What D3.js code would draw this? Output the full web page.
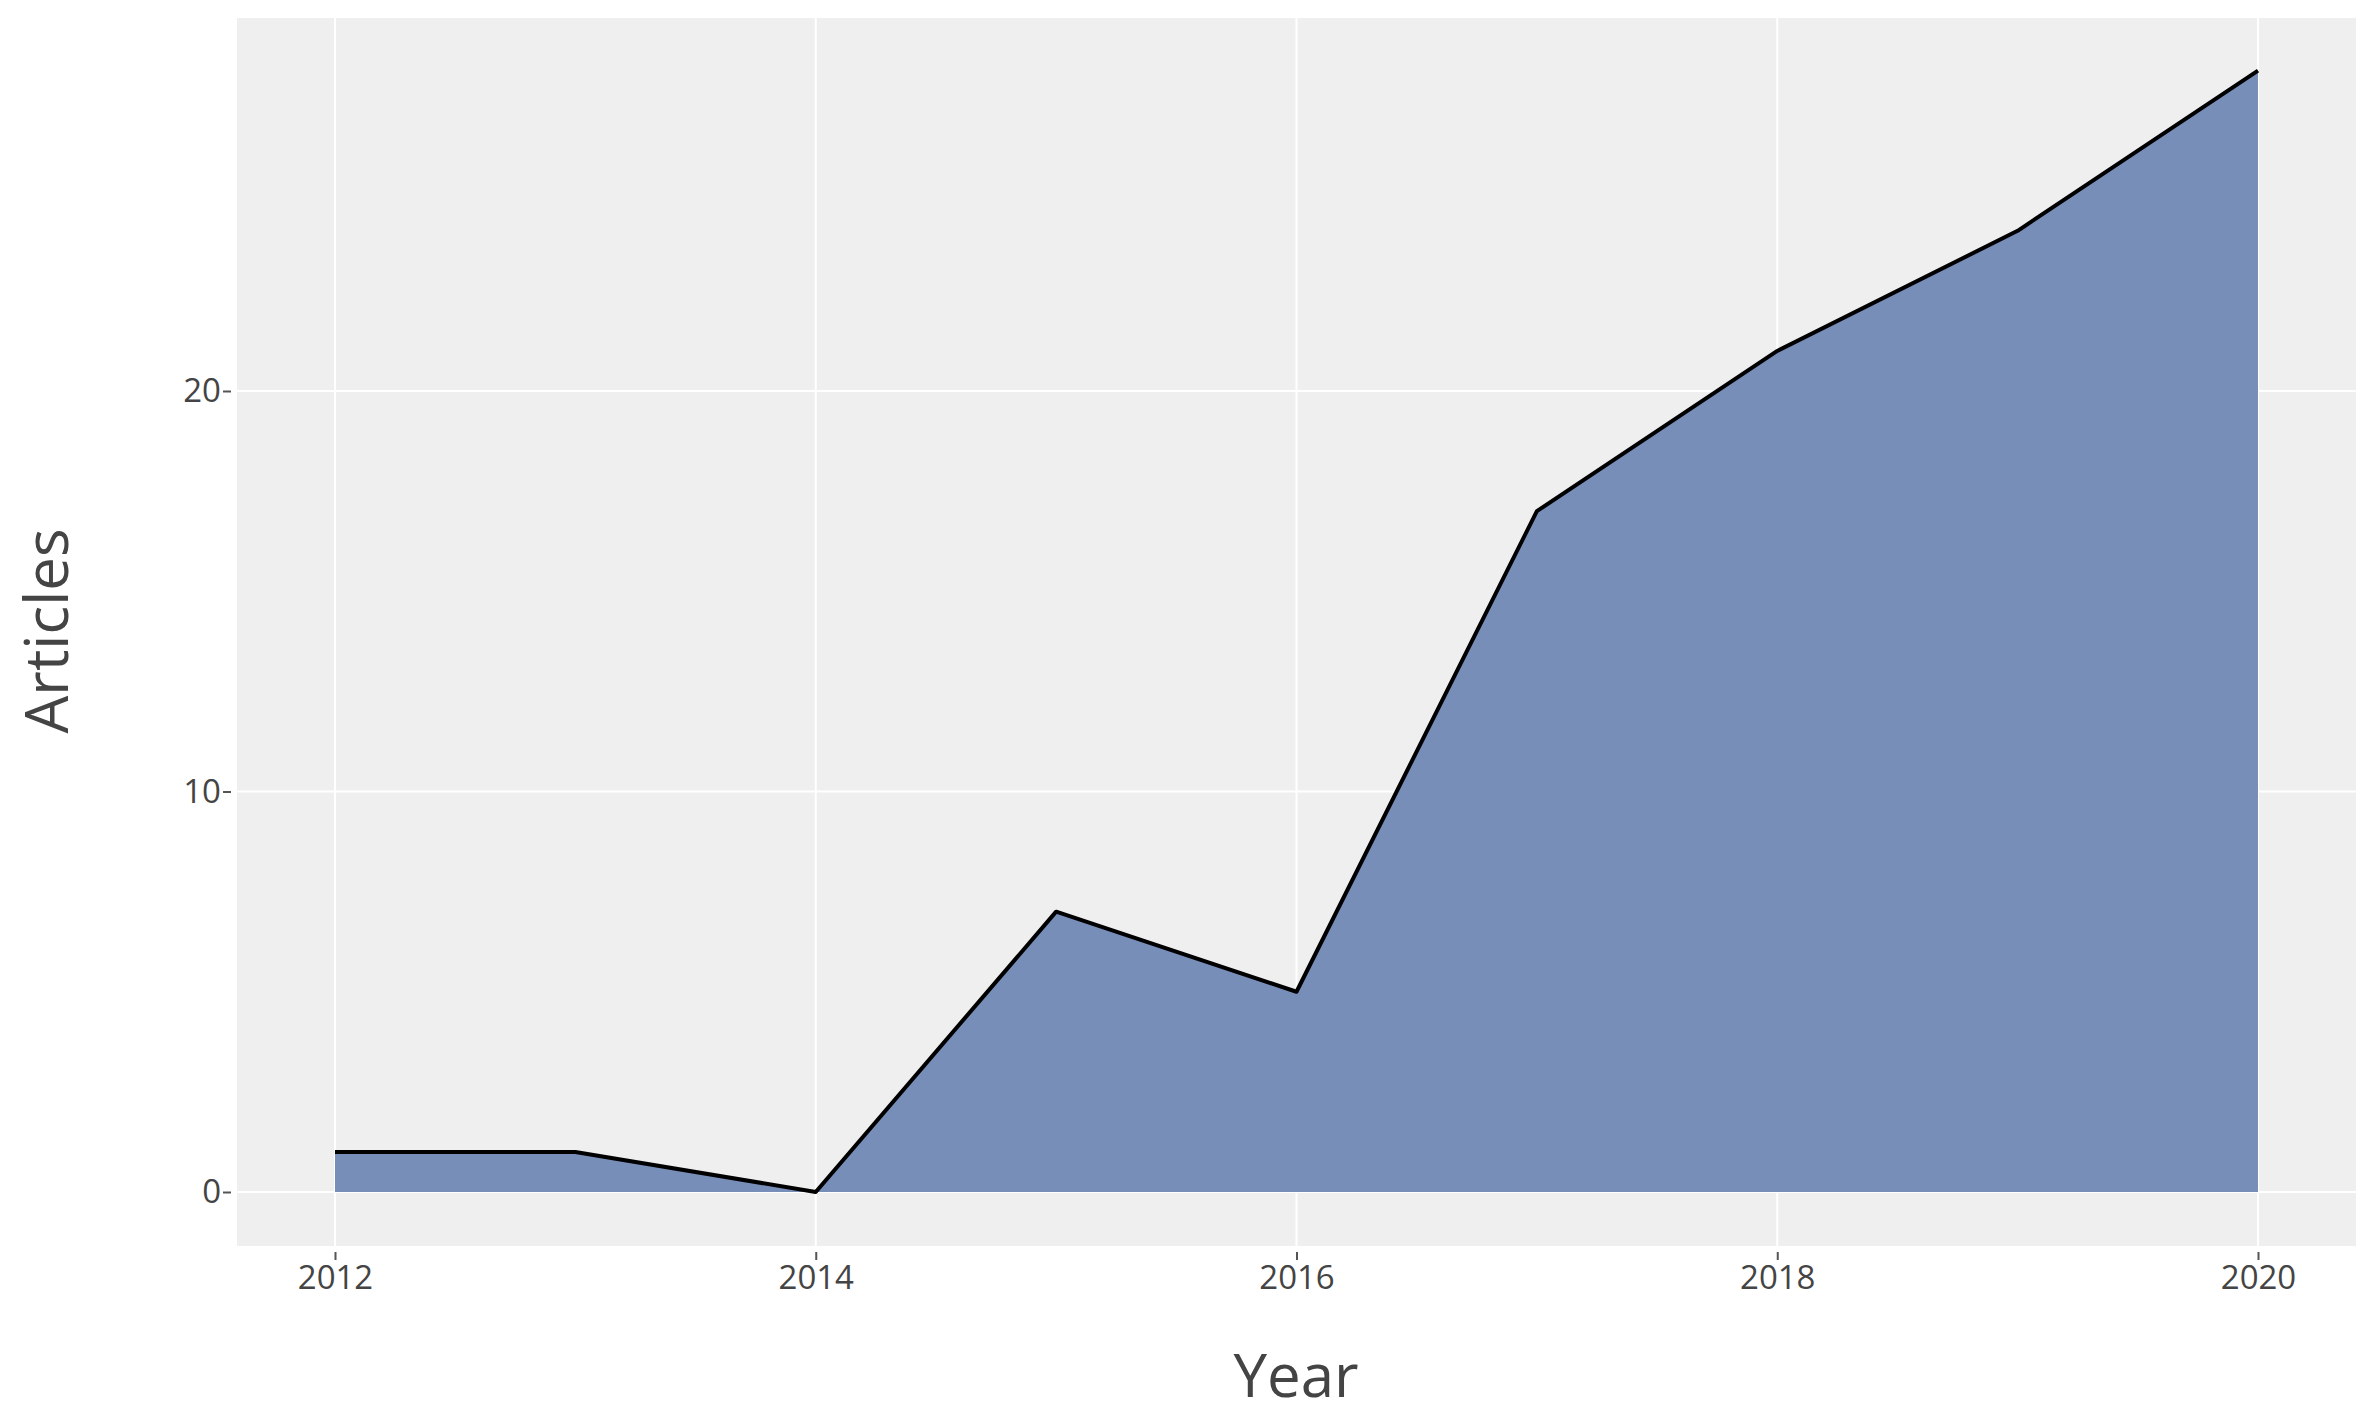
<!DOCTYPE html><html><head><meta charset="utf-8"><script src="https://cdn.jsdelivr.net/npm/d3@7"></script>
<style>body{margin:0;background:#fff}</style></head><body><svg id="c" width="2368" height="1427"></svg>
<script>
const years=[2012,2013,2014,2015,2016,2017,2018,2019,2020];
const articles=[1,1,0,7,5,17,21,24,28];
const xTicks=[2012,2014,2016,2018,2020];
const yTicks=[0,10,20];
const svg=d3.select("#c");
const L=237,R=2356,T=18,B=1246;
const x=d3.scaleLinear().domain([2012,2020]).range([335,2258]);
const y=d3.scaleLinear().domain([0,20]).range([1192,391]);
const font="'Open Sans', Verdana, sans-serif";
svg.append("rect").attr("x",L).attr("y",T).attr("width",R-L).attr("height",B-T).attr("fill","#efefef");
svg.selectAll(".gx").data(xTicks).join("line").attr("x1",d=>x(d)).attr("x2",d=>x(d)).attr("y1",T).attr("y2",B).attr("stroke","#fff").attr("stroke-width",2);
svg.selectAll(".gy").data(yTicks).join("line").attr("y1",d=>y(d)).attr("y2",d=>y(d)).attr("x1",L).attr("x2",R).attr("stroke","#fff").attr("stroke-width",2);
const pts=years.map((d,i)=>[d,articles[i]]);
svg.append("path").datum(pts).attr("d",d3.area().x(d=>x(d[0])).y0(y(0)).y1(d=>y(d[1]))).attr("fill","#778eb8");
svg.append("path").datum(pts).attr("d",d3.line().x(d=>x(d[0])).y(d=>y(d[1]))).attr("fill","none").attr("stroke","#000").attr("stroke-width",4).attr("stroke-linejoin","round");
const xa=svg.append("g").attr("transform",`translate(0,${B})`).call(d3.axisBottom(x).tickValues(xTicks).tickFormat(d3.format("d")).tickSize(8).tickPadding(12));
const ya=svg.append("g").attr("transform",`translate(${L},0)`).call(d3.axisLeft(y).tickValues(yTicks).tickSize(8).tickPadding(8));
[xa,ya].forEach(a=>{a.select(".domain").remove();a.selectAll("line").attr("stroke","#555").attr("stroke-width",2).attr("transform",a===xa?"translate(0,6)":"translate(-6,0)");a.selectAll("text").attr("font-family",font).attr("font-size",33).attr("fill","#444");});
svg.append("text").attr("x",1296).attr("y",1397).attr("text-anchor","middle").attr("font-family",font).attr("font-size",60).attr("fill","#444").text("Year");
svg.append("text").attr("transform","translate(68,631) rotate(-90)").attr("text-anchor","middle").attr("font-family",font).attr("font-size",60).attr("fill","#444").text("Articles");
</script></body></html>
